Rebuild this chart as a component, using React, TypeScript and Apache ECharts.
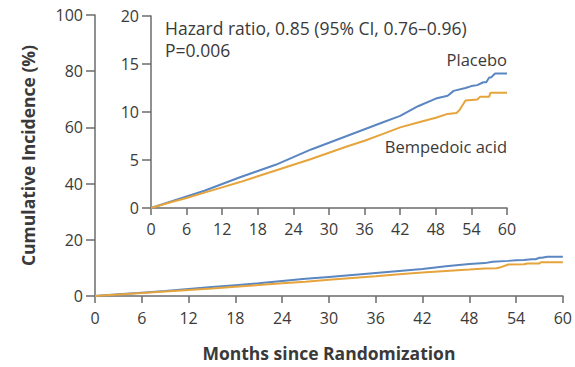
import React, { useEffect, useRef } from "react";
import * as echarts from "echarts";

const placeboMonths = [0, 3, 6, 9, 12, 15, 18, 21, 24, 27, 30, 33, 36, 39, 42, 45, 48, 50, 51, 53, 54, 55, 56, 56.5, 57, 57.3, 58, 60];
const placeboValues = [0, 0.6, 1.2, 1.8, 2.5, 3.2, 3.85, 4.5, 5.3, 6.1, 6.8, 7.5, 8.2, 8.9, 9.6, 10.6, 11.4, 11.7, 12.2, 12.5, 12.7, 12.8, 13.1, 13.1, 13.6, 13.6, 14.0, 14.0];
const bempMonths = [0, 3, 6, 9, 12, 15, 18, 21, 24, 27, 30, 33, 36, 39, 42, 45, 48, 50, 51.5, 52, 53, 55, 55.5, 57, 57.2, 60];
const bempValues = [0, 0.55, 1.05, 1.6, 2.15, 2.7, 3.3, 3.9, 4.5, 5.1, 5.75, 6.4, 7.0, 7.7, 8.4, 8.9, 9.4, 9.8, 9.9, 10.2, 11.2, 11.3, 11.6, 11.6, 12.0, 12.0];
const xTicks = [0, 6, 12, 18, 24, 30, 36, 42, 48, 54, 60];
const mainYTicks = [0, 20, 40, 60, 80, 100];
const insetYTicks = [0, 5, 10, 15, 20];

const BLUE = "#5a86c2";
const ORANGE = "#e6a43c";
const AXIS = "#6b6b6b";
const TEXT = "#3a3a3a";
const FONT = "'Open Sans', Lato, sans-serif";

export default function App() {
  const ref = useRef<HTMLDivElement>(null);
  useEffect(() => {
    document.body.style.margin = "0";
    const chart = echarts.init(ref.current!, null, { renderer: "svg" });
    const pl = placeboMonths.map((m, i) => [m, placeboValues[i]]);
    const bp = bempMonths.map((m, i) => [m, bempValues[i]]);
    const axisCommon = {
      axisLine: { show: true, lineStyle: { color: AXIS, width: 1.5 } },
      axisTick: { show: true, length: 7, lineStyle: { color: AXIS, width: 1.5 } },
      splitLine: { show: false },
      axisLabel: { color: TEXT, fontSize: 16, fontFamily: FONT },
    };
    chart.setOption({
      animation: false,
      grid: [
        { left: 95, top: 15, right: 8, bottom: 69, containLabel: false },
        { left: 151, top: 16, width: 356, bottom: 159, containLabel: false },
      ],
      xAxis: [
        {
          ...axisCommon,
          type: "value",
          gridIndex: 0,
          min: 0,
          max: 60,
          interval: 6,
          axisLabel: { ...axisCommon.axisLabel, margin: 14, customValues: xTicks },
          axisTick: { ...axisCommon.axisTick, customValues: xTicks },
          name: "Months since Randomization",
          nameLocation: "middle",
          nameGap: 48,
          nameTextStyle: { color: TEXT, fontSize: 17.5, fontWeight: "bold", fontFamily: FONT },
        },
        {
          ...axisCommon,
          type: "value",
          gridIndex: 1,
          min: 0,
          max: 60,
          interval: 6,
          axisLabel: { ...axisCommon.axisLabel, margin: 13, customValues: xTicks },
          axisTick: { ...axisCommon.axisTick, customValues: xTicks },
        },
      ],
      yAxis: [
        {
          ...axisCommon,
          type: "value",
          gridIndex: 0,
          min: 0,
          max: 100,
          interval: 20,
          axisLabel: { ...axisCommon.axisLabel, margin: 12, customValues: mainYTicks },
          axisTick: { ...axisCommon.axisTick, length: 9, customValues: mainYTicks },
          name: "Cumulative Incidence (%)",
          nameLocation: "middle",
          nameGap: 58,
          nameRotate: 90,
          nameTextStyle: { color: TEXT, fontSize: 17.5, fontWeight: "bold", fontFamily: FONT },
        },
        {
          ...axisCommon,
          type: "value",
          gridIndex: 1,
          min: 0,
          max: 20,
          interval: 5,
          axisLabel: { ...axisCommon.axisLabel, margin: 12, customValues: insetYTicks },
          axisTick: { ...axisCommon.axisTick, length: 9, customValues: insetYTicks },
        },
      ],
      series: [
        { type: "line", name: "Bempedoic acid main", xAxisIndex: 0, yAxisIndex: 0, data: bp, showSymbol: false, lineStyle: { color: ORANGE, width: 2 }, z: 3 },
        { type: "line", name: "Placebo main", xAxisIndex: 0, yAxisIndex: 0, data: pl, showSymbol: false, lineStyle: { color: BLUE, width: 2 }, z: 2 },
        { type: "line", name: "Placebo", xAxisIndex: 1, yAxisIndex: 1, data: pl, showSymbol: false, lineStyle: { color: BLUE, width: 2 }, z: 2 },
        { type: "line", name: "Bempedoic acid", xAxisIndex: 1, yAxisIndex: 1, data: bp, showSymbol: false, lineStyle: { color: ORANGE, width: 2 }, z: 3 },
      ],
      graphic: [
        { type: "text", left: 165, top: 19, style: { text: "Hazard ratio, 0.85 (95% CI, 0.76\u20130.96)", fill: TEXT, fontSize: 17.5, fontFamily: FONT } },
        { type: "text", left: 165, top: 41, style: { text: "P=0.006", fill: TEXT, fontSize: 17.5, fontFamily: FONT } },
        { type: "text", right: 68, top: 51, style: { text: "Placebo", fill: TEXT, fontSize: 16.5, fontFamily: FONT } },
        { type: "text", right: 68, top: 138, style: { text: "Bempedoic acid", fill: TEXT, fontSize: 16.5, fontFamily: FONT } },
      ],
    });
    return () => chart.dispose();
  }, []);
  return <div ref={ref} style={{ width: 575, height: 367 }} />;
}
